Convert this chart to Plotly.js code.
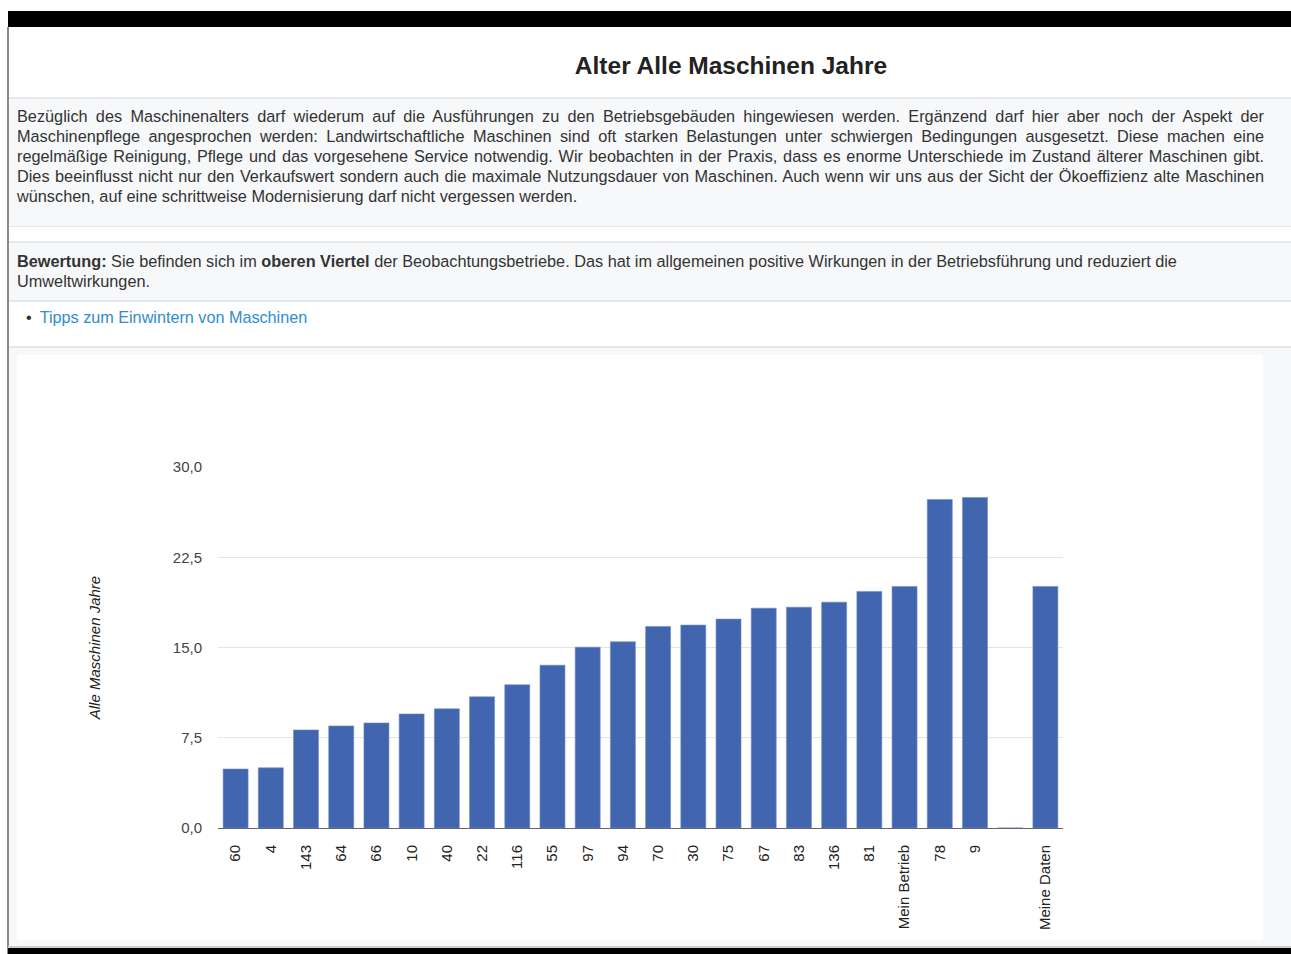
<!DOCTYPE html>
<html>
<head>
<meta charset="utf-8">
<script src="https://cdn.plot.ly/plotly-3.0.1.min.js"></script>
<style>
  html, body { margin:0; padding:0; background:#fff; width:1291px; height:954px; overflow:hidden;
    font-family:"Liberation Sans", Arial, sans-serif; color:#333; }
  .abs { position:absolute; }
  #topbar { left:8px; right:0; top:11px; height:16px; background:#000; }
  #leftline { left:7px; width:2px; top:27px; bottom:0; background:#8a8a8a; }
  #title { left:481px; width:500px; top:52px; text-align:center; font-weight:bold; font-size:24.5px; color:#222; }
  #box1 { left:9px; right:0; top:97px; height:127px; background:#f7f8fa; border-top:2px solid #e6e7e8; border-bottom:1px solid #e6e7e8; }
  #box2 { left:9px; right:0; top:241px; height:57px; background:#f7f8fa; border-top:2px solid #e6e7e8; border-bottom:2px solid #e6e7e8; }
  .txt { position:absolute; left:8px; width:1247px; font-size:16.3px; line-height:20px; }
  .jl { text-align:justify; text-align-last:justify; white-space:nowrap; }
  #list { left:26px; top:308px; font-size:16.2px; color:#2f8dd0; }
  #list span.b { color:#333; margin-right:8px; }
  #sep3 { left:9px; right:0; top:346px; height:2px; background:#e6e7e8; }
  #chartbg { left:9px; right:0; top:348px; height:598px; background:#f7f8fa; }
  #chart { left:17px; top:355px; width:1246px; height:585px; background:#fff; }
  #botbar { left:8px; right:0; top:948px; height:6px; background:#000; }
  #botline { left:8px; right:0; top:946px; height:2px; background:#ccc; }
</style>
</head>
<body>
<div id="topbar" class="abs"></div>
<div id="leftline" class="abs"></div>
<div id="title" class="abs">Alter Alle Maschinen Jahre</div>
<div id="box1" class="abs">
  <div class="txt" style="top:7px;">
    <div class="jl">Bezüglich des Maschinenalters darf wiederum auf die Ausführungen zu den Betriebsgebäuden hingewiesen werden. Ergänzend darf hier aber noch der Aspekt der</div>
    <div class="jl">Maschinenpflege angesprochen werden: Landwirtschaftliche Maschinen sind oft starken Belastungen unter schwiergen Bedingungen ausgesetzt. Diese machen eine</div>
    <div class="jl">regelmäßige Reinigung, Pflege und das vorgesehene Service notwendig. Wir beobachten in der Praxis, dass es enorme Unterschiede im Zustand älterer Maschinen gibt.</div>
    <div class="jl">Dies beeinflusst nicht nur den Verkaufswert sondern auch die maximale Nutzungsdauer von Maschinen. Auch wenn wir uns aus der Sicht der Ökoeffizienz alte Maschinen</div>
    <div>wünschen, auf eine schrittweise Modernisierung darf nicht vergessen werden.</div>
  </div>
</div>
<div id="box2" class="abs">
  <div class="txt" style="top:8px;">
    <b>Bewertung:</b> Sie befinden sich im <b>oberen Viertel</b> der Beobachtungsbetriebe. Das hat im allgemeinen positive Wirkungen in der Betriebsführung und reduziert die<br>Umweltwirkungen.
  </div>
</div>
<div id="list" class="abs"><span class="b">&#8226;</span>Tipps zum Einwintern von Maschinen</div>
<div id="sep3" class="abs"></div>
<div id="chartbg" class="abs"></div>
<div id="chart" class="abs"></div>
<div id="botline" class="abs"></div>
<div id="botbar" class="abs"></div>
<script>
const categories = ["60","4","143","64","66","10","40","22","116","55","97","94","70","30","75","67","83","136","81","Mein Betrieb","78","9","\u00a0","Meine Daten"];
const values = [4.9,5.0,8.15,8.48,8.73,9.48,9.9,10.9,11.9,13.53,15.03,15.47,16.75,16.86,17.36,18.27,18.35,18.77,19.66,20.07,27.3,27.47,0,20.07];
const yTicks = [0,7.5,15,22.5,30];
const yTickLabels = ["0,0","7,5","15,0","22,5","30,0"];

Plotly.newPlot("chart", [{
  type:"bar",
  x:categories,
  y:values,
  marker:{color:"#4166af", line:{color:"#6d8cc8", width:0.6}},
  hoverinfo:"x+y"
}], {
  width:1246, height:585,
  margin:{l:201, r:200, t:112, b:112, pad:0},
  paper_bgcolor:"#fff", plot_bgcolor:"#fff",
  bargap:0.29,
  showlegend:false,
  font:{family:"Liberation Sans, Arial, sans-serif", color:"#222", size:15},
  xaxis:{type:"category", tickangle:-90, showgrid:false, zeroline:false,
    showline:true, linecolor:"#666", linewidth:1,
    ticks:"", ticklabelstandoff:10, tickfont:{size:15, color:"#222"}},
  yaxis:{range:[0,30], tickvals:yTicks, ticktext:yTickLabels,
    showgrid:true, gridcolor:"#e4e4e4", gridwidth:1, zeroline:false,
    ticks:"", ticklabelstandoff:15, tickfont:{size:15, color:"#444"},
    title:{text:"Alle Maschinen Jahre", standoff:68, font:{size:15, color:"#222", style:"italic"}}}
}, {displayModeBar:false, staticPlot:true});
</script>
</body>
</html>
